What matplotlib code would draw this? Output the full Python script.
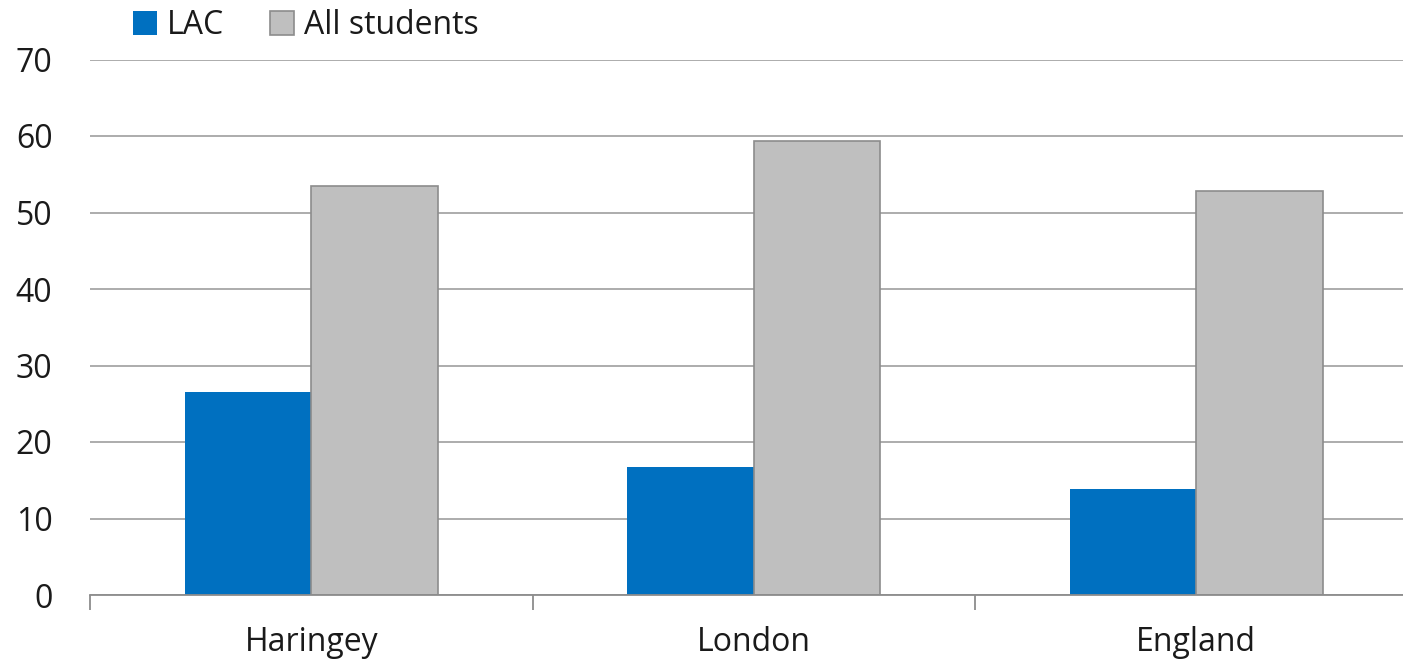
import matplotlib
matplotlib.use("Agg")
import matplotlib.pyplot as plt
import numpy as np

categories = ["Haringey", "London", "England"]
lac = [26.5, 16.7, 13.8]
all_students = [53.5, 59.3, 52.8]
series_names = ["LAC", "All students"]
yticks = [0, 10, 20, 30, 40, 50, 60, 70]

plt.rcParams['font.family'] = ['Open Sans', 'DejaVu Sans']

fig = plt.figure(figsize=(14.03, 6.61), dpi=100)
ax = fig.add_axes([90/1403, 66/661, 1 - 90/1403, (595-59.5)/661])

x = np.arange(len(categories))
w = 0.286
ax.bar(x - w/2, lac, width=w, color="#0070C0", edgecolor="none", label=series_names[0], zorder=3)
ax.bar(x + w/2, all_students, width=w, color="#BFBFBF", edgecolor="#8C8C8C", linewidth=1.2,
       label=series_names[1], zorder=3)

ax.set_yticks(yticks)
ax.set_yticklabels([str(v) for v in yticks])
ax.yaxis.grid(True, color="#A6A6A6", linewidth=1.3, zorder=0)
ax.set_axisbelow(True)

for s in ["left", "right", "top"]:
    ax.spines[s].set_visible(False)
ax.spines["bottom"].set_color("#8C8C8C")
ax.spines["bottom"].set_linewidth(1.3)
ax.spines["bottom"].set_zorder(4)

ax.set_xticks([-0.5, 0.5, 1.5, 2.5])
ax.set_xticklabels([])
ax.set_xticks(x, minor=True)
ax.set_xticklabels(categories, minor=True)
ax.tick_params(axis="x", which="major", length=11, width=1.3, color="#8C8C8C")
ax.tick_params(axis="x", which="minor", length=0, pad=22, labelsize=23, labelcolor="#1a1a1a")
ax.tick_params(axis="y", length=0, pad=27, labelsize=23, labelcolor="#1a1a1a")

ax.set_ylim(0, 70)
ax.set_xlim(-0.5, -0.5 + (1403 - 90) / 442.5)

leg = fig.legend(loc="upper left", bbox_to_anchor=(114/1403, 1.015), ncol=2, frameon=False,
                 fontsize=23, handlelength=0.75, handleheight=0.75, handletextpad=0.3,
                 columnspacing=1.45, borderaxespad=0.2)
for t in leg.get_texts():
    t.set_color("#1a1a1a")

fig.savefig("out.png", dpi=100)
